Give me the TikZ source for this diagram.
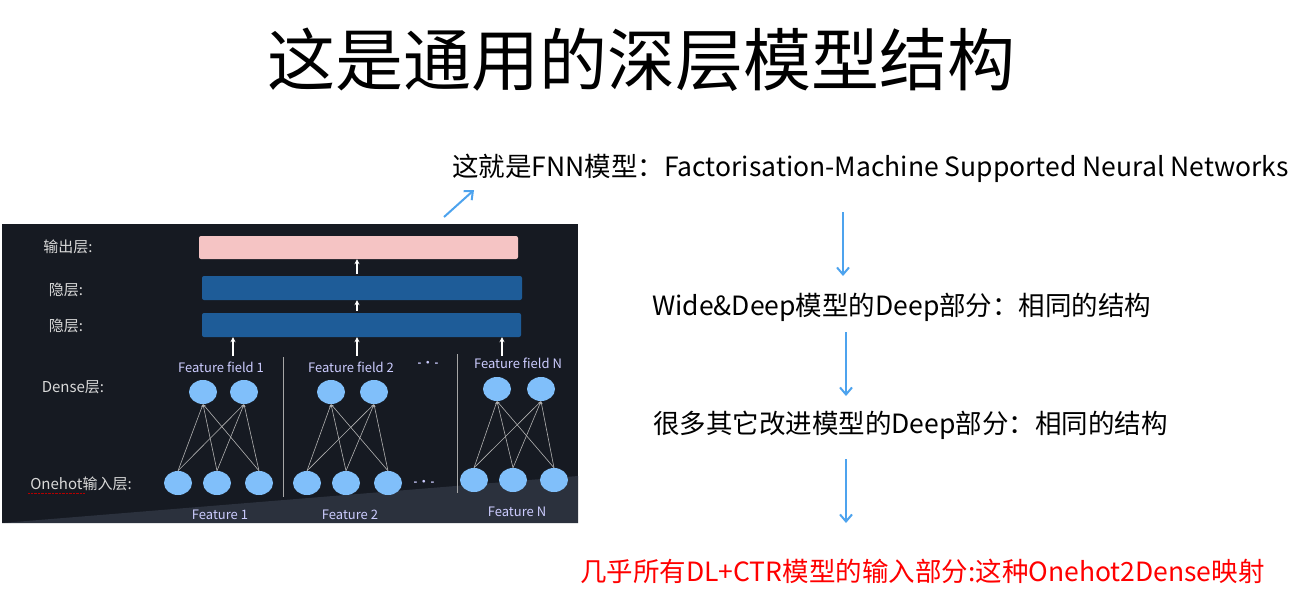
\documentclass[tikz,border=0pt]{standalone}
\usepackage{fontspec}
\setmainfont{Noto Sans CJK SC}
\usetikzlibrary{arrows.meta,shapes.geometric}
\definecolor{panel}{HTML}{161A22}
\definecolor{wedge}{HTML}{2B313D}
\definecolor{pinkbar}{HTML}{F5C4C4}
\definecolor{bluebar}{HTML}{1E5C98}
\definecolor{dot}{HTML}{80BFFA}
\definecolor{arrowblue}{HTML}{4DA3EE}
\begin{document}
\begin{tikzpicture}[x=1pt,y=-1pt,
  bar/.style={rounded corners=2pt,draw=none},
  dot/.style={ellipse,fill=dot,minimum width=28pt,minimum height=24pt,inner sep=0pt},
  plab/.style={text=white!85!black,font=\fontsize{15}{15}\selectfont,inner sep=0pt},
  flab/.style={text=white!80!blue,font=\fontsize{13}{13}\selectfont,inner sep=0pt},
  up/.style={-{Stealth[length=5pt,width=5pt]},white,line width=1.2pt},
  link/.style={-{Stealth[length=3pt,width=2pt]},gray!60,line width=0.6pt},
  bigarrow/.style={-{Straight Barb[length=7pt,width=12pt]},arrowblue,line width=2pt},
  rtext/.style={font=\fontsize{26.5}{26.5}\selectfont,inner sep=0pt}]
\useasboundingbox (0,0) rectangle (1290,595);
\fill[white] (0,0) rectangle (1290,595);
% title
\node[font=\fontsize{68}{68}\selectfont,inner sep=0pt] (title) at (641,60) {这是通用的深层模型结构};
% panel
\fill[panel] (2,224) rectangle (578,523);
\fill[wedge] (2,523) -- (578,476) -- (578,523) -- cycle;
\node[bar,fill=pinkbar,minimum width=319pt,minimum height=23pt] (out) at (358.5,247.5) {};
\node[bar,fill=bluebar,minimum width=320pt,minimum height=24pt] (h1) at (362,288) {};
\node[bar,fill=bluebar,minimum width=319pt,minimum height=24pt] (h2) at (361.5,325) {};
\coordinate (m1) at (357,274); \coordinate (m2) at (357,311);
\draw[up] (m1) -- (m1 |- out.south);
\draw[up] (m2) -- (m2 |- h1.south);
\coordinate (b1) at (233,356); \coordinate (b2) at (357,356); \coordinate (b3) at (502,356);
\draw[up] (b1) -- (b1 |- h2.south);
\draw[up] (b2) -- (b2 |- h2.south);
\draw[up] (b3) -- (b3 |- h2.south);
\node[plab] (l1) at (68,247) {输出层:};
\node[plab] (l2) at (66,290) {隐层:};
\node[plab] (l3) at (66,326) {隐层:};
\node[plab] (l4) at (73,387) {Dense层:};
\node[plab] (l5) at (81,484) {Onehot输入层:};
\draw[red!70!black,densely dotted] (28,493) -- (85,493);
\node[flab] (ff1) at (221,367) {Feature field 1};
\node[flab] (ff2) at (351,367) {Feature field 2};
\node[flab] (ffn) at (518,363) {Feature field N};
\node[flab,font=\bfseries] (dd1) at (428,364) {-\,·\,-};
\node[flab,font=\bfseries] (dd2) at (424,483) {-\,·\,-};
\node[flab] (f1) at (220,515) {Feature 1};
\node[flab] (f2) at (350,515) {Feature 2};
\node[flab] (fn) at (517,512) {Feature N};
\draw[gray!70,line width=1pt] (283,357) -- (283,497);
\draw[gray!70,line width=1pt] (457,354) -- (457,493);
% dense and onehot nodes
\foreach \g/\da/\db/\oa/\ob/\oc/\dy/\oy in {1/203/244/178/217/259/392/483, 2/331/374/307/346/388/392/483, 3/497/541/474/513/554/389/480}{
  \node[dot] (d\g a) at (\da,\dy) {};
  \node[dot] (d\g b) at (\db,\dy) {};
  \node[dot] (o\g a) at (\oa,\oy) {};
  \node[dot] (o\g b) at (\ob,\oy) {};
  \node[dot] (o\g c) at (\oc,\oy) {};
  \foreach \o in {a,b,c}{\foreach \d in {a,b}{
    \draw[link] (o\g\o.north) -- (d\g\d.south);}}
}
% right side
\node[rtext,anchor=west] (t1) at (452,168) {这就是FNN模型：Factorisation-Machine Supported Neural Networks};
\coordinate (p1) at (444,217);
\draw[bigarrow] (p1) -- (474,190);
\node[rtext,anchor=west] (t2) at (652,307) {Wide\&Deep模型的Deep部分：相同的结构};
\node[rtext,anchor=west] (t3) at (653,425) {很多其它改进模型的Deep部分：相同的结构};
\node[rtext,anchor=west,text=red] (t4) at (580,571) {几乎所有DL+CTR模型的输入部分:这种Onehot2Dense映射};
\coordinate (v1a) at (843,212); \coordinate (v1b) at (843,276);
\coordinate (v2a) at (846,332); \coordinate (v2b) at (846,396);
\coordinate (v3a) at (846,459); \coordinate (v3b) at (846,523);
\draw[bigarrow] (v1a) -- (v1b);
\draw[bigarrow] (v2a) -- (v2b);
\draw[bigarrow] (v3a) -- (v3b);
\end{tikzpicture}
\end{document}
